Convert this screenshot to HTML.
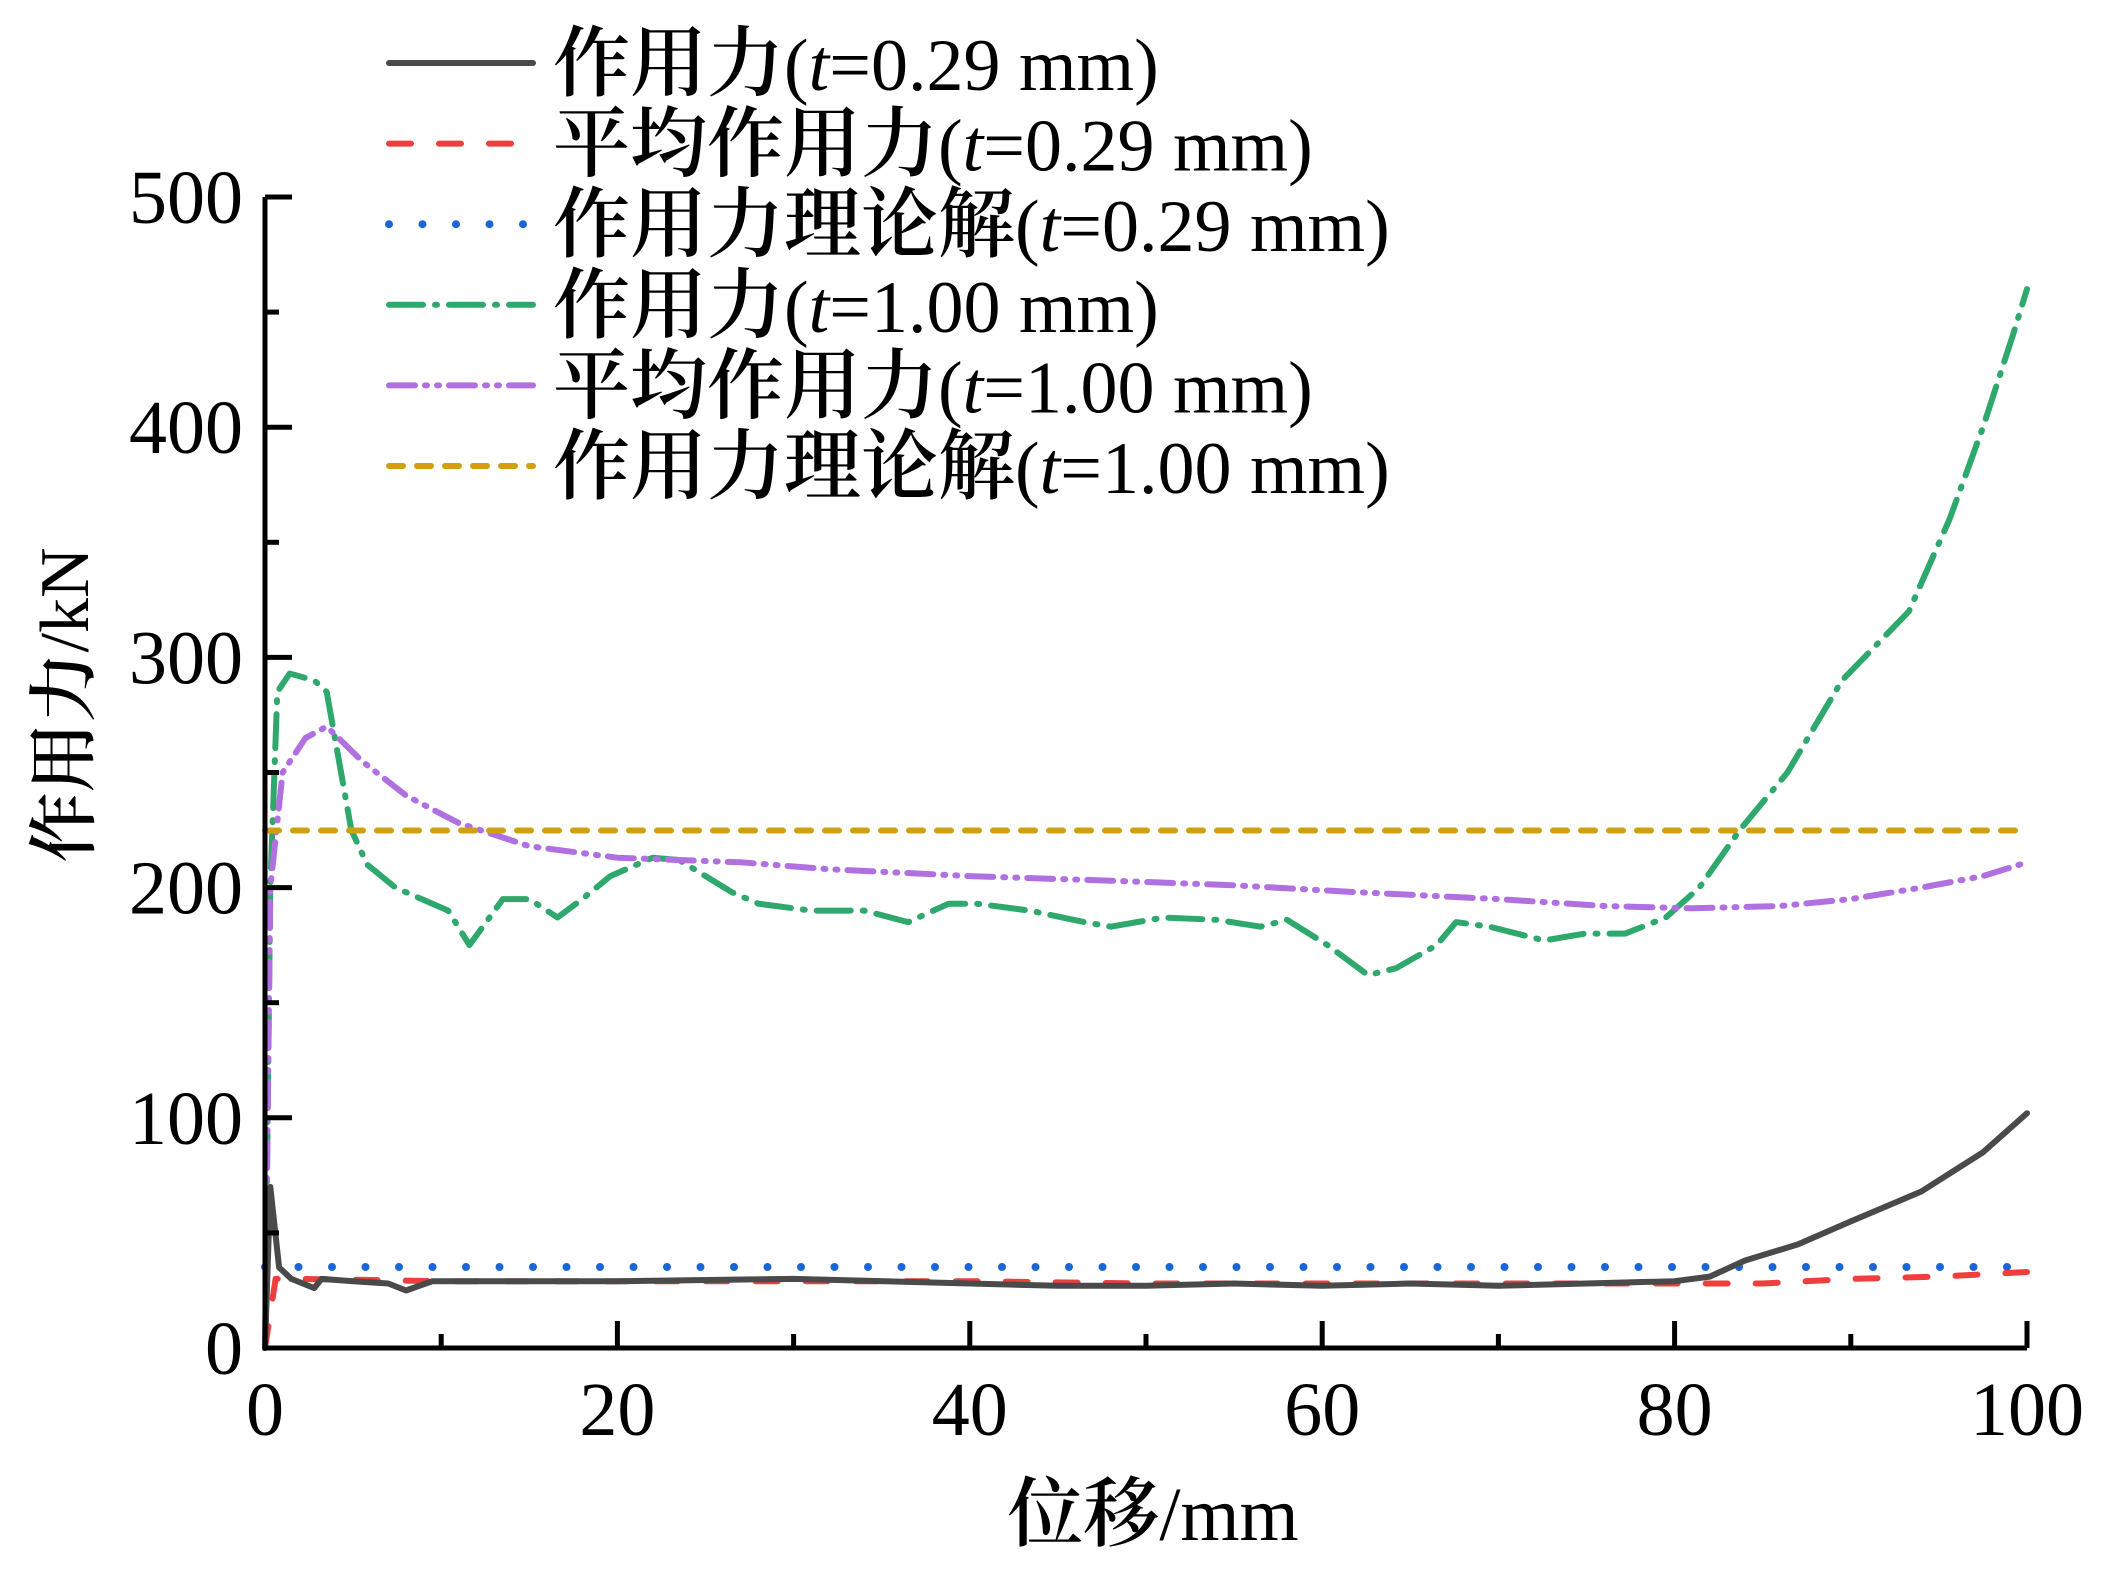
<!DOCTYPE html>
<html><head><meta charset="utf-8"><style>
body{margin:0;background:#fff}
svg{display:block}
text{font-family:"Liberation Serif","Noto Serif CJK SC",serif;fill:#000}
.cj{font-family:"Noto Serif CJK SC",serif;font-weight:600}
</style></head><body>
<svg id="chart" width="2126" height="1592" viewBox="0 0 2126 1592" xmlns="http://www.w3.org/2000/svg">
<g id="plot"></g>
<g id="axes"></g>
<g id="legend"></g>
</svg>
<script>
const xTicks=[0,20,40,60,80,100];
const yTicks=[0,100,200,300,400,500];
const blackX=[0,0.3,0.8,1.5,2.8,3.2,5,7,8,9.5,12,20,30,40,45,50,55,60,65,70,75,80,82,84,87,90,94,97.5,100];
const blackY=[0,70,35,30,26,30,29,28,25,29,29,29,30,28,27,27,28,27,28,27,28,29,31,38,45,55,68,85,102];
const redX=[0,0.3,0.6,2,10,20,30,40,50,60,70,80,85,90,95,100];
const redY=[0,15,30,30,29,29,29,29,28,28,28,28,28,30,31,33];
const blueX=[0,100];const blueY=[35.2,35.2];
const greenX=[0,0.3,0.7,1.4,2.8,3.5,4.9,5.8,7.4,8.9,10.4,11.6,13.5,15,16.6,18,19.6,22,23.5,25,26.5,28,31,34,36.5,38.8,40.4,43.4,46.5,48,51,54,56.5,58,60.3,62.6,64.2,66.5,67.6,69.5,72.6,74.9,77.2,79.5,81.4,83.7,86.4,89.5,93.3,95.6,97.5,99.2,100];
const greenY=[0,200,285,293,290,285,225,210,200,195,190,175,195,195,187,195,205,213,212,205,198,193,190,190,185,193,193,190,185,183,187,186,183,186,175,162,165,175,185,183,177,180,180,187,200,225,250,290,320,360,400,440,460];
const purpleX=[0,0.3,1,2.3,3.5,5.5,8,11,15,20,27,32,40,48,55,62,70,76,81,86,90,94,97.5,100];
const purpleY=[0,200,250,265,270,255,240,228,218,213,211,208,205,203,201,198,195,192,191,192,195,200,205,211];
const yellowX=[0,100];const yellowY=[224.8,224.8];
const legendCJK=["作用力","平均作用力","作用力理论解","作用力","平均作用力","作用力理论解"];
const legendT=["0.29","0.29","0.29","1.00","1.00","1.00"];

const X0=265,X1=2027,Y0=1348,Y1=197;
const sx=v=>X0+(X1-X0)*v/100;
const sy=v=>Y0-(Y0-Y1)*v/500;
const NS="http://www.w3.org/2000/svg";
function mk(tag,attrs,parent){const e=document.createElementNS(NS,tag);for(const k in attrs)e.setAttribute(k,attrs[k]);parent.appendChild(e);return e;}
const plot=document.getElementById('plot'),axes=document.getElementById('axes'),legend=document.getElementById('legend');
const series=[
 {name:'force-t029-line',x:blackX,y:blackY,c:'#4a4a4a',d:''},
 {name:'avg-force-t029-line',x:redX,y:redY,c:'#ef3e3e',d:'22 28'},
 {name:'theory-force-t029-line',x:blueX,y:blueY,c:'#1a66d6',d:'0 33.5'},
 {name:'force-t100-line',x:greenX,y:greenY,c:'#2fa86d',d:'34 12 2 12'},
 {name:'avg-force-t100-line',x:purpleX,y:purpleY,c:'#b070e0',d:'26 10 2 10 2 10'},
 {name:'theory-force-t100-line',x:yellowX,y:yellowY,c:'#d0a010',d:'14 14'}
];
[3,4,5,2,1,0].forEach(i=>{const s=series[i];
 const pts=s.x.map((v,j)=>sx(v).toFixed(1)+','+sy(s.y[j]).toFixed(1)).join(' ');
 const p=mk('polyline',{points:pts,fill:'none',stroke:s.c,'stroke-width':i==2?8:6,'stroke-linecap':'round','stroke-linejoin':'round'},plot);
 if(s.d)p.setAttribute('stroke-dasharray',s.d);
 
 
});
const ax=mk('path',{d:`M${X0},${Y1} V${Y0} H${X1}`,fill:'none',stroke:'#000','stroke-width':5},axes);


for(let v=0;v<=100;v+=10){const major=v%20==0;const t=mk('line',{x1:sx(v),x2:sx(v),y1:Y0,y2:Y0-(major?27:14),stroke:'#000','stroke-width':5},axes);
 
 }
for(let v=0;v<=500;v+=50){const major=v%100==0;const t=mk('line',{x1:X0,x2:X0+(major?27:14),y1:sy(v),y2:sy(v),stroke:'#000','stroke-width':5},axes);
 
 }
xTicks.forEach(v=>{const t=mk('text',{x:sx(v),y:1435,'text-anchor':'middle','font-size':76},axes);t.textContent=v;
 
 });
yTicks.forEach(v=>{const t=mk('text',{x:243,y:sy(v)+26,'text-anchor':'end','font-size':76},axes);t.textContent=v;
 
 });
const xt=mk('text',{x:1153,y:1540,'text-anchor':'middle','font-size':76},axes);
xt.innerHTML='<tspan class="cj">位移</tspan>/mm';


const yt=mk('text',{x:0,y:0,'text-anchor':'middle','font-size':70,transform:'translate(88,705) rotate(-90)'},axes);
yt.innerHTML='<tspan class="cj">作用力</tspan>/kN';


legendCJK.forEach((lab,i)=>{const s=series[i];const y=63+80.6*i;
 const l=mk('line',{x1:389,x2:533,y1:y,y2:y,stroke:s.c,'stroke-width':i==2?8:6,'stroke-linecap':'round'},legend);
 if(s.d)l.setAttribute('stroke-dasharray',s.d);
 
 
 const t=mk('text',{x:553,y:y+27,'font-size':74},legend);
 t.innerHTML='<tspan class="cj" font-size="77">'+lab+'</tspan>(<tspan font-style="italic">t</tspan>='+legendT[i]+' mm)';
 
 
});
</script>
</body></html>
